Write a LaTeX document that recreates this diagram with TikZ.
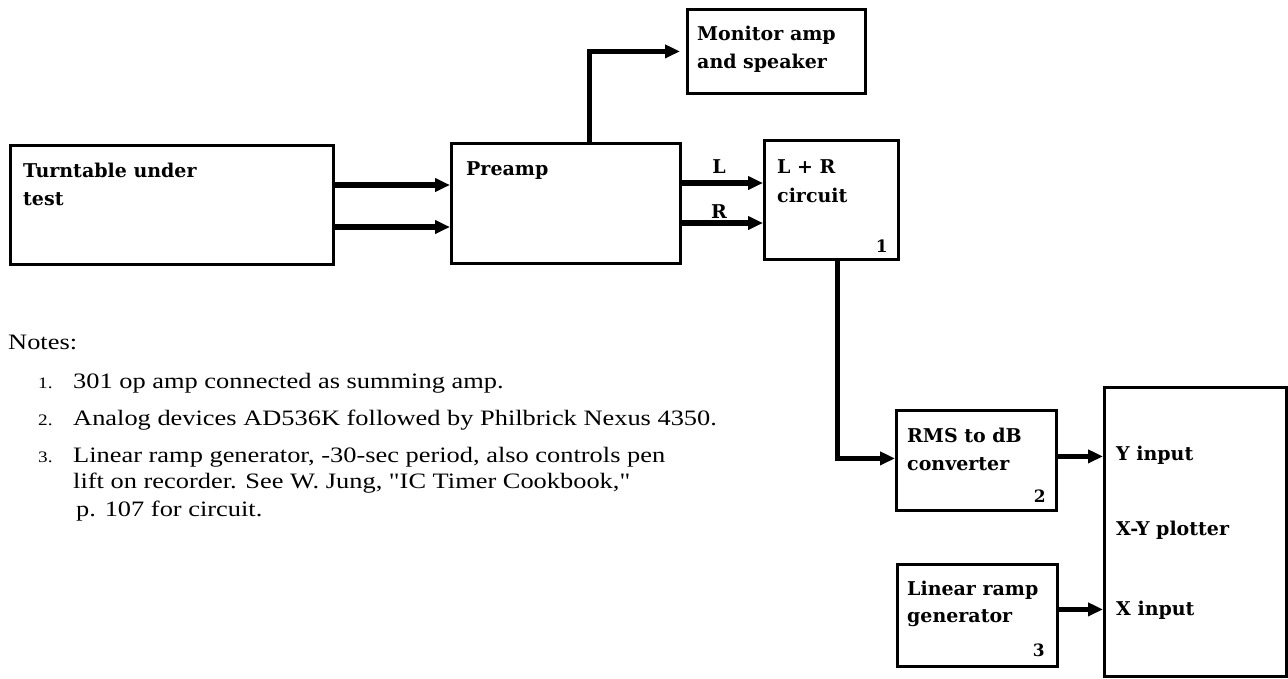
\documentclass[tikz,border=0pt]{standalone}
\usepackage{fontspec}
\usetikzlibrary{arrows.meta}
\newfontfamily\blockfont{DejaVu Serif}[BoldFont={* Bold}]
\newfontfamily\notefont[FakeStretch=1.2]{Liberation Serif}
\tikzset{
  box/.style={draw, line width=2.8pt, inner sep=0pt, anchor=north west},
  wire/.style={line width=5.5pt, -{Triangle[length=15pt,width=13pt]}},
  btxt/.style={font=\blockfont\bfseries\fontsize{19}{22}\selectfont, inner sep=0pt, anchor=base west},
  bnum/.style={font=\blockfont\bfseries\fontsize{17}{20}\selectfont, inner sep=0pt, anchor=base east},
  ntxt/.style={font=\notefont\fontsize{22}{26}\selectfont, inner sep=0pt, anchor=base west},
  nnum/.style={font=\notefont\fontsize{16}{20}\selectfont, inner sep=0pt, anchor=base west},
}
\begin{document}
\begin{tikzpicture}[x=1pt,y=-1pt]
\useasboundingbox (0,0) rectangle (1288,678);
% boxes
\node[box, minimum width=323pt, minimum height=119pt] (tt) at (9,144) {};
\node[box, minimum width=229pt, minimum height=120pt] (pre) at (450,142) {};
\node[box, minimum width=178pt, minimum height=84pt] (mon) at (686,8) {};
\node[box, minimum width=134pt, minimum height=119pt] (lr) at (763,139) {};
\node[box, minimum width=160pt, minimum height=100pt] (rms) at (895,409) {};
\node[box, minimum width=160pt, minimum height=102pt] (ramp) at (896,563) {};
\node[box, minimum width=182pt, minimum height=289pt] (plot) at (1103,386) {};
% box texts
\node[btxt] (t1) at (23,177) {Turntable under};
\node[btxt] (t2) at (23,205) {test};
\node[btxt] (p1) at (466,175) {Preamp};
\node[btxt] (m1) at (697,40) {Monitor amp};
\node[btxt] (m2) at (697,68) {and speaker};
\node[btxt] (l1) at (777,173) {L + R};
\node[btxt] (l2) at (777,202) {circuit};
\node[bnum] (l3) at (888,252) {1};
\node[btxt] (r1) at (907,442) {RMS to dB};
\node[btxt] (r2) at (907,470) {converter};
\node[bnum] (r3) at (1046,502) {2};
\node[btxt] (g1) at (907,595) {Linear ramp};
\node[btxt] (g2) at (907,622) {generator};
\node[bnum] (g3) at (1045,656) {3};
\node[btxt] (y1) at (1116,460) {Y input};
\node[btxt] (y2) at (1116,535) {X-Y plotter};
\node[btxt] (y3) at (1116,615) {X input};
\node[btxt, anchor=base] (lL) at (719,173) {L};
\node[btxt, anchor=base] (lR) at (719,218) {R};
% connectors
\draw[wire] ([yshift=-41pt]tt.north east) -- ([yshift=-41pt]tt.north east -| pre.west);
\draw[wire] ([yshift=-83pt]tt.north east) -- ([yshift=-83pt]tt.north east -| pre.west);
\draw[wire] ([yshift=-41pt]pre.north east) -- ([yshift=-41pt]pre.north east -| lr.west);
\draw[wire] ([yshift=-81pt]pre.north east) -- ([yshift=-81pt]pre.north east -| lr.west);
\draw[wire] ([xshift=23.5pt]pre.north) |- ([xshift=-6pt]mon.west);
\draw[wire] ([xshift=6pt]lr.south) |- ([yshift=2pt]rms.west);
\draw[wire] ([yshift=4pt]rms.east) -- ([yshift=4pt]rms.east -| plot.west);
\draw[wire] ([yshift=6pt]ramp.east) -- ([yshift=6pt]ramp.east -| plot.west);
% notes
\node[ntxt] (n0) at (8,349) {Notes:};
\node[nnum] (n1a) at (38,388) {1.};
\node[ntxt] (n1b) at (73,388) {301 op amp connected as summing amp.};
\node[nnum] (n2a) at (38,425) {2.};
\node[ntxt] (n2b) at (73,425) {Analog devices AD536K followed by Philbrick Nexus 4350.};
\node[nnum] (n3a) at (38,462) {3.};
\node[ntxt] (n3b) at (73,462) {Linear ramp generator, -30-sec period, also controls pen};
\node[ntxt] (n3c) at (73,488) {lift on recorder. See W. Jung, "IC Timer Cookbook,"};
\node[ntxt] (n3d) at (76,516) {p. 107 for circuit.};
\end{tikzpicture}
\end{document}
